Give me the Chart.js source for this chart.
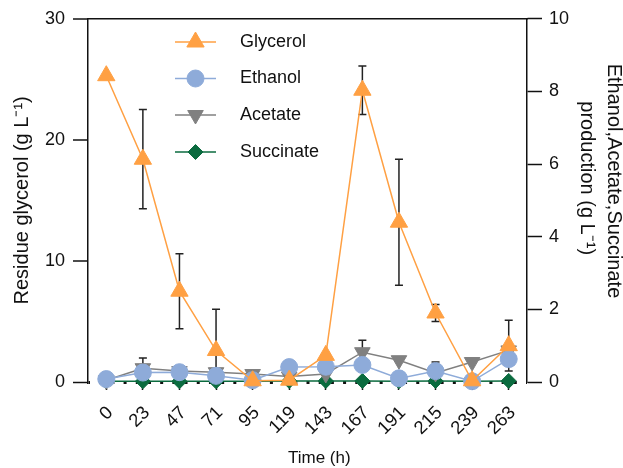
<!DOCTYPE html>
<html><head><meta charset="utf-8">
<script src="https://cdn.jsdelivr.net/npm/chart.js@4/dist/chart.umd.min.js"></script>
<style>html,body{margin:0;padding:0;background:#fff}canvas{display:block}</style>
</head><body>
<canvas id="c" width="623" height="468"></canvas>
<script>
// ---- data ----
const timeLabels = ['0','23','47','71','95','119','143','167','191','215','239','263'];
const glycerol    = [25.3, 18.4, 7.5, 2.6, 0.1, 0.15, 2.2, 24.1, 13.2, 5.7, 0.1, 3.0];
const glycerolErr = [0, 4.1, 3.1, 3.4, 0, 0, 0, 2.0, 5.2, 0.7, 0, 2.1];
const ethanol     = [0.08, 0.26, 0.27, 0.17, 0.05, 0.41, 0.42, 0.47, 0.1, 0.3, 0.02, 0.63];
const ethanolErr  = [0, 0, 0, 0, 0, 0, 0, 0, 0, 0.25, 0, 0];
const acetate     = [0.05, 0.38, 0.3, 0.27, 0.22, 0.15, 0.22, 0.82, 0.6, 0.25, 0.55, 0.87];
const acetateErr  = [0, 0.28, 0, 0, 0, 0, 0, 0.33, 0, 0, 0, 0];
const succinate   = [0.02, 0.02, 0.02, 0.02, 0.02, 0.03, 0.03, 0.03, 0.02, 0.03, 0.02, 0.03];
const succinateErr= [0, 0, 0, 0, 0, 0, 0, 0, 0, 0, 0, 0];
const leftTicks  = [0, 10, 20, 30];
const rightTicks = [0, 2, 4, 6, 8, 10];

const FONT = '"Liberation Sans", Arial, Helvetica, sans-serif';
const C_GLY = '#FFA043', C_ETH = '#8EABD9', C_ACE = '#808080', C_SUC = '#0B6B3F';

const seriesStyle = [
  {label:'Glycerol',  data: glycerol,  err: glycerolErr,  color: C_GLY, style:'triangle', rot:0,   r:10,  axis:'y'},
  {label:'Ethanol',   data: ethanol,   err: ethanolErr,   color: C_ETH, style:'circle',   rot:0,   r:8.5, axis:'y1'},
  {label:'Acetate',   data: acetate,   err: acetateErr,   color: C_ACE, style:'triangle', rot:180, r:9,   axis:'y1'},
  {label:'Succinate', data: succinate, err: succinateErr, color: C_SUC, style:'rectRot',  rot:0,   r:7.5, axis:'y1'}
];

const datasets = seriesStyle.map(s => ({
  label: s.label, data: s.data, errors: s.err, yAxisID: s.axis,
  borderColor: s.color, backgroundColor: s.color,
  pointBackgroundColor: s.color, pointBorderColor: s.color,
  pointStyle: s.style, pointRotation: s.rot, pointRadius: s.r, pointBorderWidth: 1,
  borderWidth: 1.5, tension: 0, fill: false, clip: false
}));

function drawMarker(ctx, s, x, y) {
  ctx.save();
  ctx.fillStyle = s.color; ctx.strokeStyle = s.color; ctx.lineWidth = 1;
  if (Chart.helpers && Chart.helpers.drawPoint) {
    Chart.helpers.drawPoint(ctx, {pointStyle: s.style, rotation: s.rot, radius: s.r, borderWidth: 1}, x, y);
  }
  ctx.restore();
}

const errorBars = {
  id: 'errorBars',
  beforeDatasetsDraw(chart) {
    const ctx = chart.ctx, area = chart.chartArea;
    ctx.save();
    ctx.beginPath(); ctx.rect(area.left, area.top, area.right - area.left, area.bottom - area.top); ctx.clip();
    ctx.strokeStyle = '#222'; ctx.lineWidth = 1.5;
    chart.data.datasets.forEach((ds, di) => {
      const meta = chart.getDatasetMeta(di);
      const ys = chart.scales[ds.yAxisID];
      ds.data.forEach((v, i) => {
        const e = ds.errors[i];
        if (!e) return;
        const x = meta.data[i].x;
        const yt = ys.getPixelForValue(v + e), yb = ys.getPixelForValue(v - e);
        ctx.beginPath();
        ctx.moveTo(x, yt); ctx.lineTo(x, yb);
        ctx.moveTo(x - 4, yt); ctx.lineTo(x + 4, yt);
        ctx.moveTo(x - 4, yb); ctx.lineTo(x + 4, yb);
        ctx.stroke();
      });
    });
    ctx.restore();
  }
};

const legendInside = {
  id: 'legendInside',
  afterDraw(chart) {
    const ctx = chart.ctx;
    const ys = [42, 78.5, 115, 152];
    seriesStyle.forEach((s, i) => {
      const y = ys[i];
      ctx.save();
      ctx.strokeStyle = s.color; ctx.lineWidth = 1.5;
      ctx.beginPath(); ctx.moveTo(175, y); ctx.lineTo(216, y); ctx.stroke();
      ctx.restore();
      drawMarker(ctx, s, 195.5, y);
      ctx.save();
      ctx.fillStyle = '#111'; ctx.font = '18px ' + FONT;
      ctx.textAlign = 'left'; ctx.textBaseline = 'middle';
      ctx.fillText(s.label, 240, y);
      ctx.restore();
    });
  }
};

const setTicks = arr => scale => { scale.ticks = arr.map(v => ({value: v})); };

new Chart(document.getElementById('c'), {
  type: 'line',
  data: { labels: timeLabels, datasets: datasets },
  options: {
    responsive: false, devicePixelRatio: 1, animation: false,
    layout: { padding: { top: 18, left: 0, right: 0, bottom: 0 } },
    plugins: { legend: { display: false }, tooltip: { enabled: false } },
    scales: {
      x: {
        type: 'category', position: 'bottom', offset: true,
        grid: { display: true, drawOnChartArea: false, drawTicks: true, tickLength: 8, tickColor: '#111', tickWidth: 1.5, offset: false },
        border: { display: false },
        ticks: { minRotation: 45, maxRotation: 45, autoSkip: false, padding: 12, labelOffset: 4, color: '#111', font: { family: FONT, size: 18.5 } },
        title: { display: true, text: '     Time (h)', color: '#111', font: { family: FONT, size: 17 }, padding: { top: 0, bottom: -1 } },
        afterFit(s) { s.height = 86; }
      },
      xTop: {
        type: 'category', position: 'top', offset: true,
        grid: { display: false, drawTicks: false },
        ticks: { display: false },
        border: { display: true, color: '#111', width: 1.5 }
      },
      y: {
        position: 'left', min: 0, max: 30,
        afterBuildTicks: setTicks(leftTicks),
        grid: {
          drawOnChartArea: true,
          color: c => (c.tick && c.tick.value === 0) ? '#111' : 'rgba(0,0,0,0)',
          lineWidth: c => (c.tick && c.tick.value === 0) ? 3 : 0,
          tickLength: 15, tickColor: '#111', tickWidth: 1.5
        },
        border: { display: true, color: '#111', width: 1.5, dash: [3, 439/36 - 3], dashOffset: 1.5 },
        ticks: { padding: 8, color: '#111', font: { family: FONT, size: 18 } },
        title: { display: true, text: 'Residue glycerol (g L\u207B\u00B9)', color: '#111', font: { family: FONT, size: 20 }, padding: { top: 10, bottom: 0 } },
        afterFit(s) { s.width = 88; }
      },
      y1: {
        position: 'right', min: 0, max: 10,
        afterBuildTicks: setTicks(rightTicks),
        grid: { drawOnChartArea: false, tickLength: 15, tickColor: '#111', tickWidth: 1.5 },
        border: { display: true, color: '#111', width: 1.5 },
        ticks: { padding: 7, color: '#111', font: { family: FONT, size: 18 } },
        title: { display: true, text: ['Ethanol,Acetate,Succinate       ', 'production (g L\u207B\u00B9)        '], color: '#111', font: { family: FONT, size: 20, lineHeight: 1.35 }, padding: { top: -4, bottom: 0 } },
        afterFit(s) { s.width = 96; }
      }
    }
  },
  plugins: [errorBars, legendInside]
});
</script>
</body></html>
